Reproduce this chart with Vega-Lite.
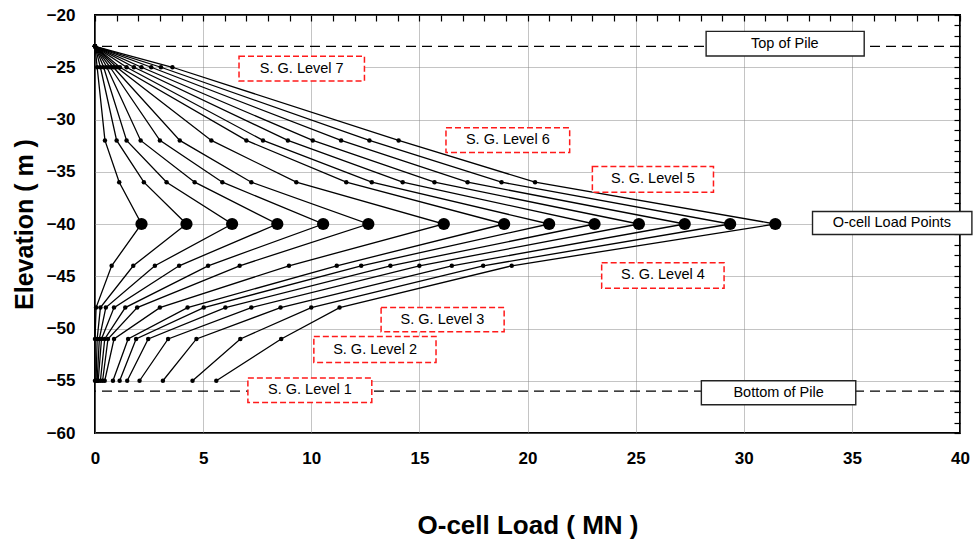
{
  "$schema": "https://vega.github.io/schema/vega-lite/v6.json",
  "width": 865,
  "height": 418,
  "autosize": {"type": "none"},
  "padding": {"left": 95, "top": 15, "right": 17, "bottom": 112},
  "background": "white",
  "config": {
    "view": {"stroke": "black", "strokeWidth": 2},
    "font": "Liberation Sans"
  },
  "resolve": {"axis": {"x": "independent", "y": "independent"}},
  "datasets": {
    "curves": [
      {"step":1,"elev":-23,"load":0},{"step":1,"elev":-25,"load":0.1},{"step":1,"elev":-32,"load":0.46},{"step":1,"elev":-36,"load":1.12},{"step":1,"elev":-40,"load":2.15},{"step":1,"elev":-44,"load":0.77},{"step":1,"elev":-48,"load":0.05},{"step":1,"elev":-51,"load":0.0},{"step":1,"elev":-55,"load":0.0},
      {"step":2,"elev":-23,"load":0},{"step":2,"elev":-25,"load":0.25},{"step":2,"elev":-32,"load":1.0},{"step":2,"elev":-36,"load":2.26},{"step":2,"elev":-40,"load":4.23},{"step":2,"elev":-44,"load":1.77},{"step":2,"elev":-48,"load":0.25},{"step":2,"elev":-51,"load":0.1},{"step":2,"elev":-55,"load":0.05},
      {"step":3,"elev":-23,"load":0},{"step":3,"elev":-25,"load":0.4},{"step":3,"elev":-32,"load":1.46},{"step":3,"elev":-36,"load":3.31},{"step":3,"elev":-40,"load":6.34},{"step":3,"elev":-44,"load":2.77},{"step":3,"elev":-48,"load":0.5},{"step":3,"elev":-51,"load":0.2},{"step":3,"elev":-55,"load":0.1},
      {"step":4,"elev":-23,"load":0},{"step":4,"elev":-25,"load":0.55},{"step":4,"elev":-32,"load":2.11},{"step":4,"elev":-36,"load":4.61},{"step":4,"elev":-40,"load":8.43},{"step":4,"elev":-44,"load":3.89},{"step":4,"elev":-48,"load":0.88},{"step":4,"elev":-51,"load":0.3},{"step":4,"elev":-55,"load":0.15},
      {"step":5,"elev":-23,"load":0},{"step":5,"elev":-25,"load":0.7},{"step":5,"elev":-32,"load":3.0},{"step":5,"elev":-36,"load":5.89},{"step":5,"elev":-40,"load":10.55},{"step":5,"elev":-44,"load":5.23},{"step":5,"elev":-48,"load":1.4},{"step":5,"elev":-51,"load":0.45},{"step":5,"elev":-55,"load":0.25},
      {"step":6,"elev":-23,"load":0},{"step":6,"elev":-25,"load":0.85},{"step":6,"elev":-32,"load":3.92},{"step":6,"elev":-36,"load":7.23},{"step":6,"elev":-40,"load":12.64},{"step":6,"elev":-44,"load":6.69},{"step":6,"elev":-48,"load":1.95},{"step":6,"elev":-51,"load":0.6},{"step":6,"elev":-55,"load":0.35},
      {"step":7,"elev":-23,"load":0},{"step":7,"elev":-25,"load":1.0},{"step":7,"elev":-32,"load":5.38},{"step":7,"elev":-36,"load":9.31},{"step":7,"elev":-40,"load":16.13},{"step":7,"elev":-44,"load":8.97},{"step":7,"elev":-48,"load":3.0},{"step":7,"elev":-51,"load":0.88},{"step":7,"elev":-55,"load":0.45},
      {"step":8,"elev":-23,"load":0},{"step":8,"elev":-25,"load":1.15},{"step":8,"elev":-32,"load":7.0},{"step":8,"elev":-36,"load":11.62},{"step":8,"elev":-40,"load":18.92},{"step":8,"elev":-44,"load":11.18},{"step":8,"elev":-48,"load":4.28},{"step":8,"elev":-51,"load":1.53},{"step":8,"elev":-55,"load":0.83},
      {"step":9,"elev":-23,"load":0},{"step":9,"elev":-25,"load":1.46},{"step":9,"elev":-32,"load":7.77},{"step":9,"elev":-36,"load":12.8},{"step":9,"elev":-40,"load":21.0},{"step":9,"elev":-44,"load":12.31},{"step":9,"elev":-48,"load":5.03},{"step":9,"elev":-51,"load":1.9},{"step":9,"elev":-55,"load":1.14},
      {"step":10,"elev":-23,"load":0},{"step":10,"elev":-25,"load":1.8},{"step":10,"elev":-32,"load":8.92},{"step":10,"elev":-36,"load":14.23},{"step":10,"elev":-40,"load":23.1},{"step":10,"elev":-44,"load":13.66},{"step":10,"elev":-48,"load":6.03},{"step":10,"elev":-51,"load":2.46},{"step":10,"elev":-55,"load":1.49},
      {"step":11,"elev":-23,"load":0},{"step":11,"elev":-25,"load":2.15},{"step":11,"elev":-32,"load":10.07},{"step":11,"elev":-36,"load":15.7},{"step":11,"elev":-40,"load":25.15},{"step":11,"elev":-44,"load":15.0},{"step":11,"elev":-48,"load":7.23},{"step":11,"elev":-51,"load":3.38},{"step":11,"elev":-55,"load":2.06},
      {"step":12,"elev":-23,"load":0},{"step":12,"elev":-25,"load":2.6},{"step":12,"elev":-32,"load":11.38},{"step":12,"elev":-36,"load":17.23},{"step":12,"elev":-40,"load":27.27},{"step":12,"elev":-44,"load":16.5},{"step":12,"elev":-48,"load":8.58},{"step":12,"elev":-51,"load":4.69},{"step":12,"elev":-55,"load":3.14},
      {"step":13,"elev":-23,"load":0},{"step":13,"elev":-25,"load":3.05},{"step":13,"elev":-32,"load":12.69},{"step":13,"elev":-36,"load":18.8},{"step":13,"elev":-40,"load":29.37},{"step":13,"elev":-44,"load":17.95},{"step":13,"elev":-48,"load":10.0},{"step":13,"elev":-51,"load":6.72},{"step":13,"elev":-55,"load":4.51},
      {"step":14,"elev":-23,"load":0},{"step":14,"elev":-25,"load":3.58},{"step":14,"elev":-32,"load":14.04},{"step":14,"elev":-36,"load":20.35},{"step":14,"elev":-40,"load":31.46},{"step":14,"elev":-44,"load":19.27},{"step":14,"elev":-48,"load":11.31},{"step":14,"elev":-51,"load":8.61},{"step":14,"elev":-55,"load":5.61}
    ],
    "refs": [
      {"name": "Top of Pile", "elev": -23},
      {"name": "Bottom of Pile", "elev": -56}
    ],
    "notes": [
      {"label":"Top of Pile","x1":28.26,"x2":35.57,"y1":-21.57,"y2":-23.93,"cx":31.9,"cy":-22.75,"kind":"ref"},
      {"label":"S. G. Level 7","x1":6.66,"x2":12.46,"y1":-23.95,"y2":-26.31,"cx":9.56,"cy":-25.13,"kind":"gauge"},
      {"label":"S. G. Level 6","x1":16.23,"x2":21.95,"y1":-30.8,"y2":-33.16,"cx":19.09,"cy":-31.98,"kind":"gauge"},
      {"label":"S. G. Level 5","x1":23.0,"x2":28.6,"y1":-34.5,"y2":-36.97,"cx":25.8,"cy":-35.73,"kind":"gauge"},
      {"label":"O-cell Load Points","x1":33.18,"x2":40.55,"y1":-38.8,"y2":-41.0,"cx":36.85,"cy":-39.9,"kind":"ref"},
      {"label":"S. G. Level 4","x1":23.43,"x2":29.09,"y1":-43.7,"y2":-46.14,"cx":26.26,"cy":-44.92,"kind":"gauge"},
      {"label":"S. G. Level 3","x1":13.23,"x2":18.92,"y1":-48.0,"y2":-50.3,"cx":16.07,"cy":-49.15,"kind":"gauge"},
      {"label":"S. G. Level 2","x1":10.12,"x2":15.77,"y1":-50.77,"y2":-53.25,"cx":12.95,"cy":-52.01,"kind":"gauge"},
      {"label":"S. G. Level 1","x1":7.07,"x2":12.8,"y1":-54.74,"y2":-57.07,"cx":9.94,"cy":-55.9,"kind":"gauge"},
      {"label":"Bottom of Pile","x1":28.04,"x2":35.18,"y1":-55.0,"y2":-57.3,"cx":31.61,"cy":-56.15,"kind":"ref"}
    ]
  },
  "layer": [
    {
      "data": {"name": "curves"},
      "mark": {"type": "line", "color": "black", "strokeWidth": 1.3},
      "encoding": {
        "x": {
          "field": "load", "type": "quantitative",
          "scale": {"domain": [0, 40], "nice": false, "zero": false},
          "axis": {
            "values": [0,5,10,15,20,25,30,35,40],
            "labelOverlap": false, "labelFlush": false, "labelBound": false,
            "grid": true,
            "gridColor": "#888", "gridDash": [1, 1], "gridWidth": 1,
            "domain": false,
            "ticks": false,
            "labelPadding": 17,
            "labelFont": "Liberation Sans", "labelFontWeight": "bold", "labelFontSize": 17, "labelColor": "black",
            "title": "O-cell Load  ( MN )",
            "titleFont": "Liberation Sans", "titleFontWeight": "bold", "titleFontSize": 26, "titleColor": "black",
            "titleY": 92, "titleBaseline": "middle"
          }
        },
        "y": {
          "field": "elev", "type": "quantitative",
          "scale": {"domain": [-60, -20], "nice": false, "zero": false},
          "axis": {
            "values": [-60,-55,-50,-45,-40,-35,-30,-25,-20],
            "labelOverlap": false, "labelFlush": false, "labelBound": false,
            "grid": true,
            "gridColor": "#888", "gridDash": [1, 1], "gridWidth": 1,
            "domain": false,
            "ticks": false,
            "labelPadding": 20,
            "labelFont": "Liberation Sans", "labelFontWeight": "bold", "labelFontSize": 17, "labelColor": "black",
            "title": "Elevation  ( m )",
            "titleFont": "Liberation Sans", "titleFontWeight": "bold", "titleFontSize": 25, "titleColor": "black",
            "titleX": -71, "titleY": 209, "titleBaseline": "middle", "titleAlign": "center"
          }
        },
        "detail": {"field": "step", "type": "nominal"},
        "order": {"field": "elev", "sort": "descending"}
      }
    },
    {
      "data": {"name": "refs"},
      "mark": {"type": "rule", "color": "black", "strokeWidth": 1.3, "strokeDash": [10, 6]},
      "encoding": {
        "y": {"field": "elev", "type": "quantitative",
          "axis": {
            "values": [-60,-59,-58,-57,-56,-55,-54,-53,-52,-51,-50,-49,-48,-47,-46,-45,-44,-43,-42,-41,-40,-39,-38,-37,-36,-35,-34,-33,-32,-31,-30,-29,-28,-27,-26,-25,-24,-23,-22,-21,-20],
            "labels": false, "grid": false, "domain": false, "title": null,
            "ticks": true, "tickSize": 6, "offset": -6, "tickColor": "black", "tickWidth": 1.2
          }
        }
      }
    },
    {
      "data": {"name": "curves"},
      "transform": [{"filter": "datum.elev !== -40"}],
      "mark": {"type": "circle", "color": "black", "opacity": 1, "size": 20},
      "encoding": {
        "x": {"field": "load", "type": "quantitative",
          "axis": {
            "values": [0,1,2,3,4,5,6,7,8,9,10,11,12,13,14,15,16,17,18,19,20,21,22,23,24,25,26,27,28,29,30,31,32,33,34,35,36,37,38,39,40],
            "labels": false, "grid": false, "domain": false, "title": null,
            "ticks": true, "tickSize": 6, "offset": -6, "tickColor": "black", "tickWidth": 1.2
          }
        },
        "y": {"field": "elev", "type": "quantitative", "axis": null}
      }
    },
    {
      "data": {"name": "curves"},
      "transform": [{"filter": "datum.elev === -40"}],
      "mark": {"type": "circle", "color": "black", "opacity": 1, "size": 150},
      "encoding": {
        "x": {"field": "load", "type": "quantitative", "axis": null},
        "y": {"field": "elev", "type": "quantitative", "axis": null}
      }
    },
    {
      "data": {"name": "notes"},
      "transform": [{"filter": "datum.kind === 'gauge'"}],
      "mark": {"type": "rect", "fill": "white", "stroke": "#ff1a1a", "strokeWidth": 1.5, "strokeDash": [6, 3]},
      "encoding": {
        "x": {"field": "x1", "type": "quantitative", "axis": null},
        "x2": {"field": "x2"},
        "y": {"field": "y1", "type": "quantitative", "axis": null},
        "y2": {"field": "y2"}
      }
    },
    {
      "data": {"name": "notes"},
      "transform": [{"filter": "datum.kind === 'ref'"}],
      "mark": {"type": "rect", "fill": "white", "stroke": "#222222", "strokeWidth": 1.4},
      "encoding": {
        "x": {"field": "x1", "type": "quantitative", "axis": null},
        "x2": {"field": "x2"},
        "y": {"field": "y1", "type": "quantitative", "axis": null},
        "y2": {"field": "y2"}
      }
    },
    {
      "data": {"name": "notes"},
      "mark": {"type": "text", "font": "Liberation Sans", "fontSize": 14.5, "color": "black", "align": "center", "baseline": "middle"},
      "encoding": {
        "x": {"field": "cx", "type": "quantitative", "axis": null},
        "y": {"field": "cy", "type": "quantitative", "axis": null},
        "text": {"field": "label", "type": "nominal"}
      }
    }
  ]
}
